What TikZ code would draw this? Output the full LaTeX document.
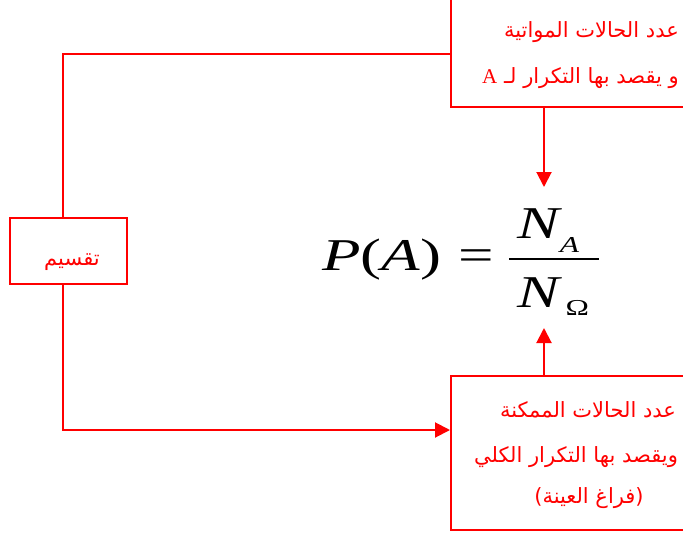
\documentclass[tikz,border=0pt]{standalone}
\usepackage{fontspec}
\usepackage{amsmath}
\usepackage{graphicx}
\setmainfont{Liberation Serif}
\newfontfamily\arabicfont[Script=Arabic]{DejaVu Sans}
\TeXXeTstate=1
\usetikzlibrary{arrows.meta}
\newcommand{\fracpart}[4]{\makebox[14.3pt][l]{\rule{0pt}{#3}\kern1.3pt\textit{N}\kern#2\raisebox{#4}{\fontsize{5}{6}\selectfont #1}}}
\begin{document}
\begin{tikzpicture}[x=1pt,y=-1pt,
  box/.style={draw=red, line width=2pt, inner sep=0pt, rectangle},
  conn/.style={draw=red, line width=2pt},
  arr/.style={conn, -{Triangle[length=15pt,width=15pt]}},
  ar/.style={text=red, font=\arabicfont\fontsize{21}{24}\selectfont, inner sep=0pt}]
\useasboundingbox (0,0) rectangle (683,533);
\clip (0,0) rectangle (683,533);
% boxes
\node[box, minimum width=269pt, minimum height=117pt] (top) at (585.5,48.5) {};
\node[box, minimum width=269pt, minimum height=154pt] (bot) at (585.5,453) {};
\node[box, minimum width=117pt, minimum height=66pt] (L) at (68.5,250.5) {};
% texts
\node[ar, anchor=base east] (t1) at (679,37) {\beginR عدد الحالات المواتية\endR};
\node[ar, anchor=base west] (t2) at (482,83) {\beginR و يقصد بها التكرار لـ \beginL{\rmfamily A}\endL\endR};
\node[ar, anchor=base] (b1) at (588,417) {\beginR عدد الحالات الممكنة\endR};
\node[ar, anchor=base] (b2) at (576,462) {\beginR ويقصد بها التكرار الكلي\endR};
\node[ar, anchor=base] (b3) at (589,503) {\beginR (فراغ العينة)\endR};
\node[ar, anchor=base] (lt) at (72,265) {\beginR تقسيم\endR};
% formula
\node[anchor=base west, inner sep=0pt] (eq) at (322,270)
  {\scalebox{6.3}[4.55]{$\textit{P}\text{(}\textit{A}\text{)}\;\text{=}\kern1.2pt\dfrac{\fracpart{\textit{A}}{-0.4pt}{6.6pt}{-3pt}}{\fracpart{Ω}{0.5pt}{9.4pt}{-1.8pt}}$}};
% connectors
\coordinate (c1) at (63,54);
\coordinate (c2) at (63,430);
\coordinate (a1) at (544,187);
\coordinate (a2) at (544,328);
\draw[conn] (L.north -| c1) -- (c1) -- (top.west |- c1);
\draw[arr] (L.south -| c1) -- (c2) -- (bot.west |- c2);
\draw[arr] (top.south -| a1) -- (a1);
\draw[arr] (bot.north -| a2) -- (a2);
\end{tikzpicture}
\end{document}
